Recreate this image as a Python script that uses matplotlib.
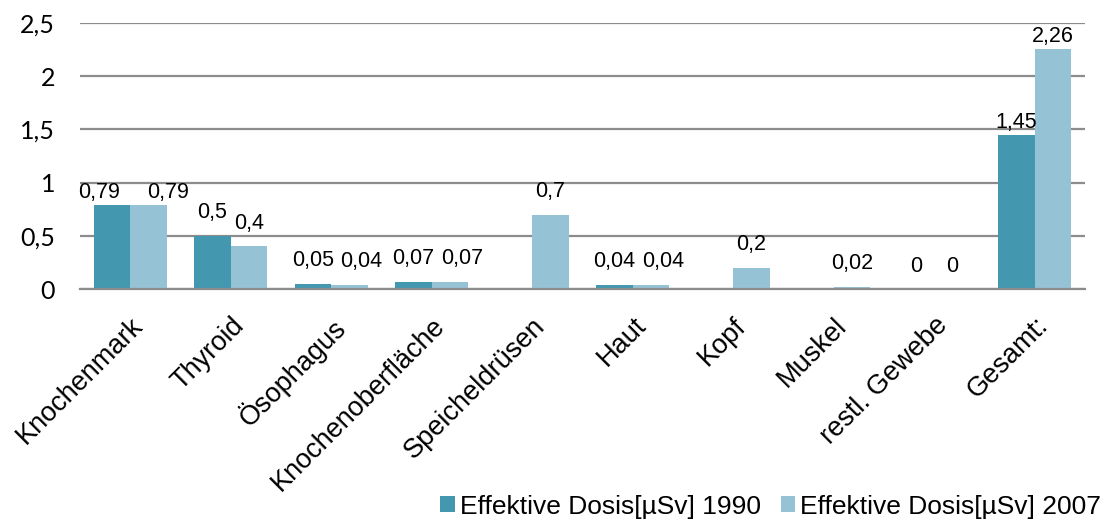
import matplotlib.pyplot as plt
import numpy as np

# Dosiswerte je Organ
organe = ["Knochenmark", "Thyroid", "Ösophagus", "Knochenoberfläche",
          "Speicheldrüsen", "Haut", "Kopf", "Muskel", "restl. Gewebe", "Gesamt:"]
dosis_1990 = [0.79, 0.5, 0.05, 0.07, None, 0.04, None, None, 0, 1.45]
dosis_2007 = [0.79, 0.4, 0.04, 0.07, 0.7, 0.04, 0.2, 0.02, 0, 2.26]
serien = ["Effektive Dosis[µSv] 1990", "Effektive Dosis[µSv] 2007"]

farben = ["#4398b0", "#95c3d5"]
breite = 0.365
px = 72 / 100  # Pixel -> Punkt bei 100 dpi

fig = plt.figure(figsize=(11.07, 5.25), dpi=100)
ax = fig.add_axes([0.0723, 0.4495, 0.9077, 0.5065])

x = np.arange(len(organe))


def zahl(v):
    return ("%g" % v).replace(".", ",")


def verschiebung(i, k):
    # Beschriftungen, die sich überlappen würden, seitlich auseinanderschieben
    a, b = dosis_1990[k], dosis_2007[k]
    if a is None or b is None or abs(a - b) > 0.05 or len(zahl(a)) < 3:
        return 0
    if a >= 0.75:
        return -13 if i == 0 else 19
    return 0 if i == 0 else 12


for i, (werte, farbe, name) in enumerate(zip([dosis_1990, dosis_2007], farben, serien)):
    pos = x + (i - 0.5) * breite
    hoehen = [0 if v is None else v for v in werte]
    ax.bar(pos, hoehen, breite, color=farbe, label=name, zorder=3)
    for k, (p, v) in enumerate(zip(pos, werte)):
        if v is None:
            continue
        dx = verschiebung(i, k) * px
        dy = (12 if v >= 0.75 else 23) * px
        ax.annotate(zahl(v), (p, v), xytext=(dx, dy), textcoords="offset points",
                    ha="center", va="center", fontsize=15.5,
                    family="Liberation Sans", zorder=4)

ax.set_ylim(0, 2.5)
ax.set_xlim(-0.5, len(organe) - 0.5)
ax.set_yticks([0, 0.5, 1, 1.5, 2, 2.5])
ax.set_yticklabels(["0", "0,5", "1", "1,5", "2", "2,5"], fontsize=18, family="Lato")
ax.yaxis.grid(True, color="#8c8c8c", linewidth=1.6, zorder=0)
ax.tick_params(axis="y", length=0, pad=18)
ax.tick_params(axis="x", length=0, pad=17)
ax.set_xticks(x)
ax.set_xticklabels(organe, rotation=45, ha="right", rotation_mode="anchor",
                   fontsize=19.5, family="Liberation Sans")
for s in ["left", "right", "top"]:
    ax.spines[s].set_visible(False)
ax.spines["bottom"].set_color("#8c8c8c")
ax.spines["bottom"].set_linewidth(1.6)
ax.spines["bottom"].set_zorder(5)

handles, labels = ax.get_legend_handles_labels()
fig.legend(handles, labels, loc="lower right", bbox_to_anchor=(0.995, 0.012), ncol=2,
           frameon=False, prop={"family": "Liberation Sans", "size": 19},
           borderpad=0, borderaxespad=0,
           handlelength=0.55, handleheight=0.55, handletextpad=0.2, columnspacing=0.75)

fig.savefig("out.png", dpi=100)
